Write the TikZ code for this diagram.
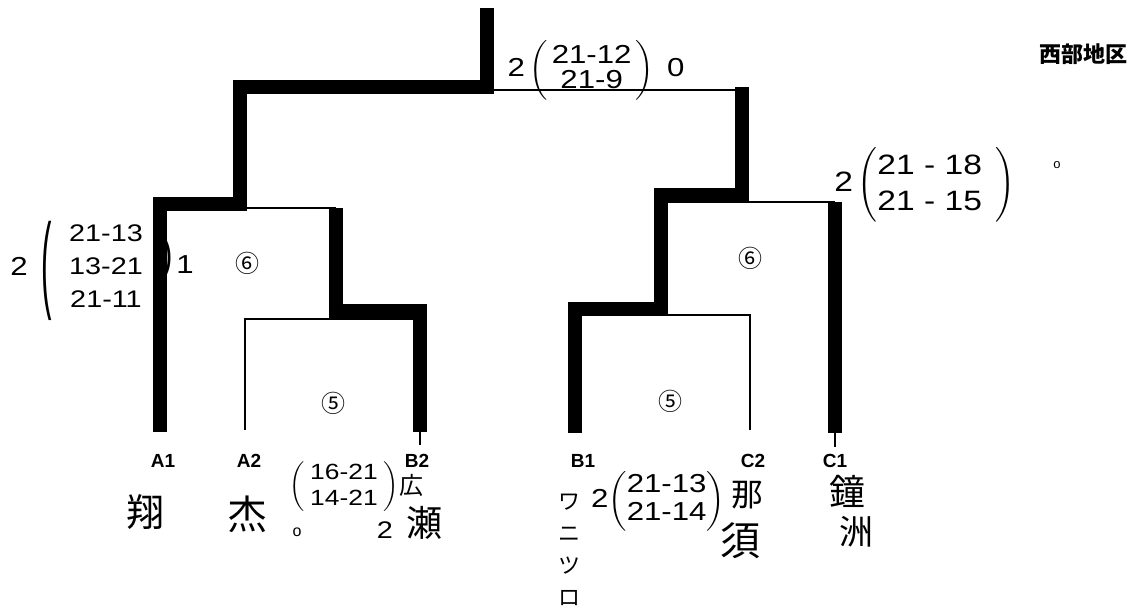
\documentclass[tikz,border=0pt]{standalone}
\usepackage{fontspec}
\usepackage{amsmath}
\setmainfont{Liberation Sans}
\newfontfamily\jp{Noto Sans CJK JP}
\newfontfamily\hand{Liberation Sans}[FakeStretch=1.2]
\begin{document}
\begin{tikzpicture}[x=1pt,y=-1pt,
  win/.style={line width=14pt, line join=miter, line cap=butt},
  bk/.style={line width=2.8pt},
  lab/.style={font=\bfseries\fontsize{19}{22}\selectfont, inner sep=0pt},
  circ/.style={font=\jp\fontsize{24}{26}\selectfont, inner sep=0pt},
  score/.style={font=\hand\fontsize{26}{30}\selectfont, inner sep=0pt},
  nm/.style={font=\jp\fontsize{36}{40}\selectfont, inner sep=0pt},
]
\fill[white] (0,0) rectangle (1136,610);
\useasboundingbox (0,0) rectangle (1136,610);

% bracket coordinates
\coordinate (pA1) at (160,432);
\coordinate (pA2) at (245,430);
\coordinate (pB2) at (420,432);
\coordinate (pB1) at (575,433);
\coordinate (pC2) at (750,430);
\coordinate (pC1) at (835,433);
\coordinate (jL5) at (336,311);
\coordinate (mL5) at (420,319);
\coordinate (tL6) at (336,208);
\coordinate (jL6) at (240,204);
\coordinate (jR5) at (661,309);
\coordinate (mR5) at (750,315);
\coordinate (jR6) at (742,195);
\coordinate (tR6) at (835,202);
\coordinate (jF) at (487,87);
\coordinate (champ) at (487,8);
\coordinate (fL) at (240,90);
\coordinate (fR) at (742,90);

% thin bracket
\draw[bk] (fL) -- (fR);
\draw[bk] (pA1 |- tL6) -- (tL6);
\draw[bk] (pA2) |- (mL5);
\draw[bk] (jR5 |- tR6) -- (tR6);
\draw[bk] (pB1 |- mR5) -| (pC2);
\draw[bk] (pB2) -- ++(0,13);
\draw[bk] (pC1) -- ++(0,14);

% winner lines
\draw[win] (pA1) |- (jL6) |- (jF) -- (champ);
\draw[win] (pB2) |- (jL5) -- (tL6);
\draw[win] (pB1) |- (jR5) |- (jR6) -- (jR6 |- jF);
\draw[win] (pC1) -- (tR6);

% match numbers
\node[circ] (mL6) at (247,263) {⑥};
\node[circ] (mL5n) at (333,403) {⑤};
\node[circ] (mR6) at (750,258) {⑥};
\node[circ] (mR5n) at (670,401) {⑤};

% labels
\node[lab] (lA1) at (163,461) {A1};
\node[lab] (lA2) at (249,461) {A2};
\node[lab] (lB2) at (417,461) {B2};
\node[lab] (lB1) at (583,461) {B1};
\node[lab] (lC2) at (753,461) {C2};
\node[lab] (lC1) at (835,461) {C1};

\node[font=\jp\bfseries\fontsize{22}{24}\selectfont, inner sep=0pt] (ttl) at (1083,54) {西部地区};

% scores: final
\node[score, font=\hand\fontsize{26}{23}\selectfont] (sF) at (596,70) {2\,$\left(\,\begin{tabular}{@{}c@{}}21-12\\21-9\end{tabular}\,\right)$\enspace 0};

% scores: left semifinal
\node[score] (sL2) at (19,266) {2};
\node[score, font=\hand\fontsize{26}{30}\selectfont] (sLp) at (47,271) {\scalebox{1}[4.1]{(}};
\node[score, font=\hand\fontsize{24}{33}\selectfont] (sLt) at (106,268) {\begin{tabular}{@{}c@{}}21-13\\13-21\\21-11\end{tabular}};
\node[score, font=\hand\fontsize{26}{30}\selectfont] (sLq) at (168,258) {\scalebox{1}[1.7]{)}};
\node[score] (sL1) at (185,265) {1};

% scores: right semifinal
\node[score, font=\hand\fontsize{28}{36}\selectfont] (sR) at (925,185) {2\,$\left(\begin{tabular}{@{}c@{}}21 - 18\\21 - 15\end{tabular}\;\;\right)$};
\node[score, font=\fontsize{13}{14}\selectfont] (sR0) at (1057,165) {o};

% scores: first round left
\node[score, font=\hand\fontsize{22}{26}\selectfont] (sA) at (344,487) {$\left(\;\begin{tabular}{@{}c@{}}16-21\\14-21\end{tabular}\;\right)$};
\node[score, font=\fontsize{16}{18}\selectfont] (sA0) at (297,532) {o};
\node[score, font=\hand\fontsize{24}{26}\selectfont] (sA2) at (385,530) {2};

% scores: first round right
\node[score, font=\hand\fontsize{26}{28}\selectfont] (sB) at (658,501) {2$\left(\begin{tabular}{@{}c@{}}21-13\\21-14\end{tabular}\right)$};

% names
\node[nm, font=\jp\fontsize{38}{40}\selectfont] (nA1) at (145,512) {翔};
\node[nm, font=\jp\fontsize{40}{42}\selectfont] (nA2) at (247,514) {杰};
\node[nm, font=\jp\fontsize{24}{26}\selectfont] (nB2a) at (411,485) {広};
\node[nm] (nB2b) at (424,523) {瀬};
\node[nm, font=\jp\fontsize{22}{32}\selectfont, align=center] (nB1) at (569,550) {ワ\\ニ\\ツ\\ロ};
\node[nm, font=\jp\fontsize{32}{34}\selectfont] (nC2a) at (747,495) {那};
\node[nm, font=\jp\fontsize{40}{42}\selectfont] (nC2b) at (740,541) {須};
\node[nm] (nC1a) at (847,491) {鐘};
\node[nm, font=\jp\fontsize{34}{36}\selectfont] (nC1b) at (856,532) {洲};
\end{tikzpicture}
\end{document}
